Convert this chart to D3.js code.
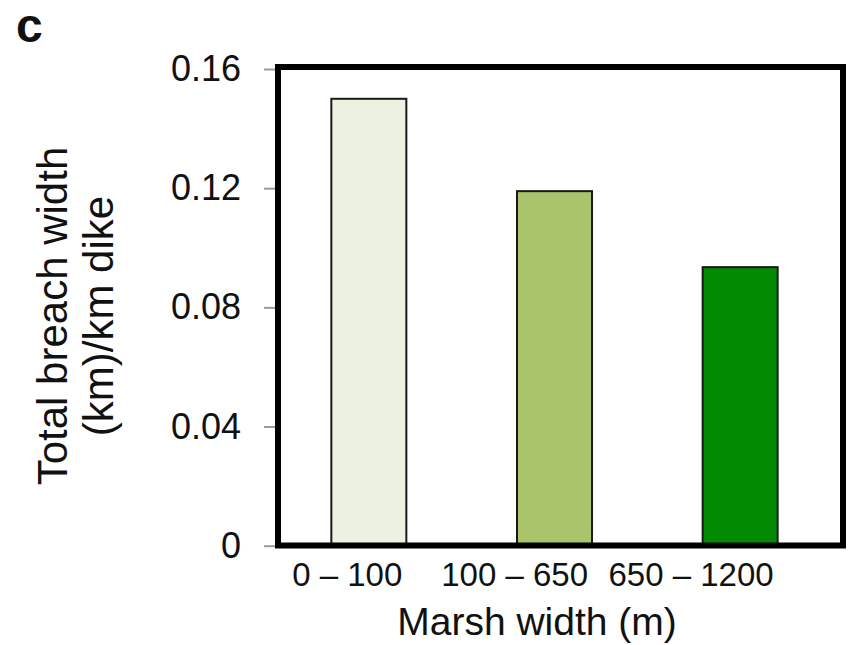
<!DOCTYPE html>
<html>
<head>
<meta charset="utf-8">
<script src="https://cdn.jsdelivr.net/npm/d3@7/dist/d3.min.js"></script>
<style>
  html, body { margin: 0; padding: 0; background: #fff; }
  svg { display: block; }
  text { font-family: "Liberation Sans", Arial, sans-serif; fill: #111; }
</style>
</head>
<body>
<svg id="chart" width="867" height="645"></svg>
<script>
// Breach width per km of dike, grouped by marsh width class
const categories = ["0 – 100", "100 – 650", "650 – 1200"];
const breachWidth = [0.150, 0.119, 0.0935];
const barColors = ["#edf1e1", "#aac46c", "#028a02"];
const yTicks = [0, 0.04, 0.08, 0.12, 0.16];
const yTickLabels = ["0", "0.04", "0.08", "0.12", "0.16"];

const svg = d3.select("#chart");

const frame = { left: 278, right: 843, top: 67, bottom: 545.5 };

const x = d3.scaleBand()
  .domain(categories)
  .range([276, 833])
  .paddingInner(0.596)
  .paddingOuter(0.298);

const y = d3.scaleLinear()
  .domain([0, 0.16])
  .range([545.7, 69]);

// bars
svg.append("g")
  .selectAll("rect")
  .data(categories)
  .join("rect")
  .attr("x", d => x(d))
  .attr("y", (d, i) => y(breachWidth[i]))
  .attr("width", x.bandwidth())
  .attr("height", (d, i) => y(0) - y(breachWidth[i]))
  .attr("fill", (d, i) => barColors[i])
  .attr("stroke", "#1a1a1a")
  .attr("stroke-width", 2);

// y axis: gray ticks outside the frame, labels to the left
const yAxis = d3.axisLeft(y)
  .tickValues(yTicks)
  .tickFormat((d, i) => yTickLabels[i])
  .tickSize(14)
  .tickPadding(23);

const gy = svg.append("g")
  .attr("transform", `translate(${frame.left},0)`)
  .call(yAxis);
gy.select(".domain").remove();
gy.selectAll(".tick line").attr("stroke", "#9a9a9a").attr("stroke-width", 2);
gy.selectAll(".tick text")
  .attr("font-size", 36)
  .attr("font-family", "Liberation Sans, Arial, sans-serif")
  .attr("fill", "#111");

// plot frame
svg.append("rect")
  .attr("x", frame.left)
  .attr("y", frame.top)
  .attr("width", frame.right - frame.left)
  .attr("height", frame.bottom - frame.top)
  .attr("fill", "none")
  .attr("stroke", "#000")
  .attr("stroke-width", 6);

// category labels under the frame
svg.append("g")
  .selectAll("text")
  .data(categories)
  .join("text")
  .attr("x", d => x(d) + x.bandwidth() - 4)
  .attr("y", 586)
  .attr("text-anchor", "end")
  .attr("font-size", 33)
  .text(d => d);

// axis titles
svg.append("text")
  .attr("x", 537)
  .attr("y", 635)
  .attr("text-anchor", "middle")
  .attr("font-size", 39)
  .text("Marsh width (m)");

const yTitle = svg.append("text")
  .attr("transform", "translate(67,316) rotate(-90)")
  .attr("text-anchor", "middle")
  .attr("font-size", 42);
yTitle.append("tspan").attr("x", 0).attr("y", 0).text("Total breach width");
yTitle.append("tspan").attr("x", 0).attr("y", 46).text("(km)/km dike");

// panel letter
svg.append("text")
  .attr("x", 16)
  .attr("y", 42)
  .attr("font-family", "Open Sans, sans-serif")
  .attr("font-weight", "bold")
  .attr("font-size", 48)
  .text("c");
</script>
</body>
</html>
